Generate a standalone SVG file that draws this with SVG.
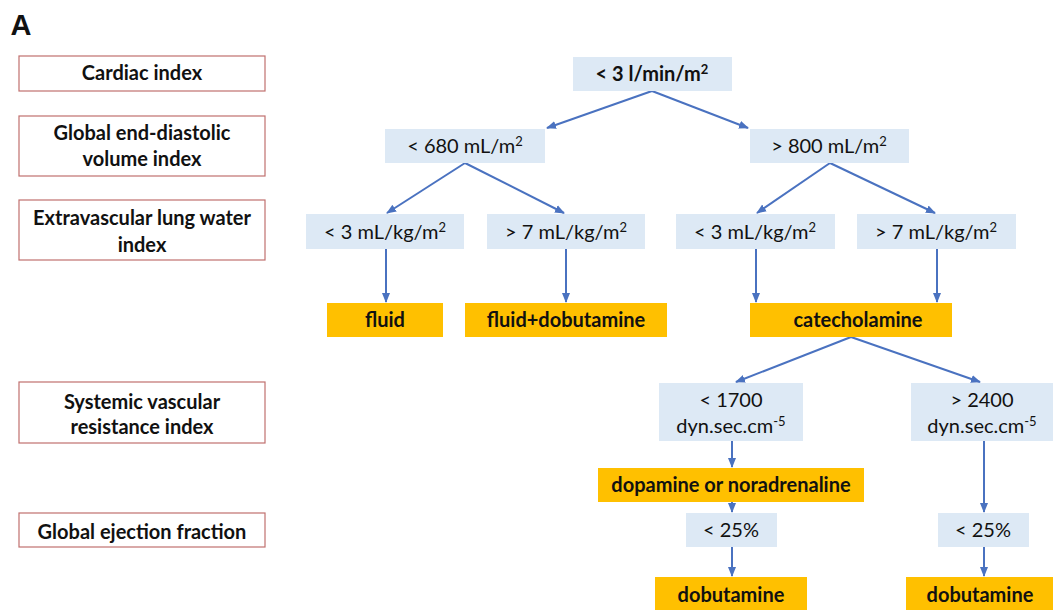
<svg xmlns="http://www.w3.org/2000/svg" width="1053" height="610" viewBox="0 0 1053 610">
<style>
.lbl{fill:#fff;stroke:#c0706e;stroke-width:1.2}
.blue{fill:#dde9f5}
.org{fill:#ffc000}
text{font-family:Lato,"Open Sans","Liberation Sans",sans-serif;font-size:20px;fill:#111;text-anchor:middle}
.b{font-weight:bold}
.sup{font-size:13px}
.conn line{stroke:#4a72c0;stroke-width:2;marker-end:url(#ah)}
</style>
<defs>
<marker id="ah" markerUnits="userSpaceOnUse" markerWidth="10" markerHeight="10" viewBox="0 0 10 10" refX="9" refY="5" orient="auto">
<path d="M0,1 L10,5 L0,9 Z" fill="#4a72c0"/>
</marker>
</defs>
<rect width="1053" height="610" fill="#fff"/>
<text x="21" y="35" class="b" style="font-size:29px;font-family:'Liberation Sans',sans-serif">A</text>

<g id="label-ci"><rect class="lbl" x="19" y="56" width="246" height="35"/><text x="142" y="80" class="b">Cardiac index</text></g>
<g id="label-gedvi"><rect class="lbl" x="19" y="116" width="246" height="60"/><text x="142" y="140" class="b">Global end-diastolic</text><text x="142" y="166" class="b">volume index</text></g>
<g id="label-evlwi"><rect class="lbl" x="19" y="200" width="246" height="60"/><text x="142" y="225" class="b">Extravascular lung water</text><text x="142" y="252" class="b">index</text></g>
<g id="label-svri"><rect class="lbl" x="19" y="382" width="246" height="61"/><text x="142" y="409" class="b">Systemic vascular</text><text x="142" y="434" class="b">resistance index</text></g>
<g id="label-gef"><rect class="lbl" x="19" y="513" width="246" height="34"/><text x="142" y="539" class="b">Global ejection fraction</text></g>

<g class="conn">
<line x1="652" y1="91" x2="547" y2="128"/>
<line x1="652" y1="91" x2="748" y2="128"/>
<line x1="465" y1="163" x2="387" y2="213"/>
<line x1="465" y1="163" x2="564" y2="213"/>
<line x1="830" y1="163" x2="757" y2="213"/>
<line x1="830" y1="163" x2="935" y2="213"/>
<line x1="386" y1="249" x2="386" y2="302"/>
<line x1="566" y1="249" x2="566" y2="302"/>
<line x1="756" y1="249" x2="756" y2="302"/>
<line x1="937" y1="249" x2="937" y2="302"/>
<line x1="851" y1="337" x2="736" y2="382"/>
<line x1="851" y1="337" x2="980" y2="382"/>
<line x1="732" y1="441" x2="732" y2="467"/>
<line x1="732" y1="502" x2="732" y2="512"/>
<line x1="732" y1="547" x2="732" y2="576"/>
<line x1="984" y1="441" x2="984" y2="512"/>
<line x1="984" y1="547" x2="984" y2="576"/>
</g>

<g id="n-ci"><rect class="blue" x="573" y="57" width="159" height="34"/><text x="652" y="81" class="b">&lt; 3 l/min/m<tspan class="sup" dy="-7">2</tspan></text></g>
<g id="n-gedvi-low"><rect class="blue" x="385" y="129" width="160" height="34"/><text x="465" y="153">&lt; 680 mL/m<tspan class="sup" dy="-7">2</tspan></text></g>
<g id="n-gedvi-high"><rect class="blue" x="750" y="129" width="159" height="34"/><text x="829" y="153">&gt; 800 mL/m<tspan class="sup" dy="-7">2</tspan></text></g>
<g id="n-evlw1"><rect class="blue" x="306" y="214" width="158" height="35"/><text x="385" y="239">&lt; 3 mL/kg/m<tspan class="sup" dy="-7">2</tspan></text></g>
<g id="n-evlw2"><rect class="blue" x="487" y="214" width="158" height="35"/><text x="566" y="239">&gt; 7 mL/kg/m<tspan class="sup" dy="-7">2</tspan></text></g>
<g id="n-evlw3"><rect class="blue" x="676" y="214" width="159" height="35"/><text x="755" y="239">&lt; 3 mL/kg/m<tspan class="sup" dy="-7">2</tspan></text></g>
<g id="n-evlw4"><rect class="blue" x="857" y="214" width="159" height="35"/><text x="936" y="239">&gt; 7 mL/kg/m<tspan class="sup" dy="-7">2</tspan></text></g>
<g id="n-fluid"><rect class="org" x="327" y="303" width="116" height="34"/><text x="385" y="327" class="b">fluid</text></g>
<g id="n-fluiddob"><rect class="org" x="465" y="303" width="202" height="34"/><text x="566" y="327" class="b">fluid+dobutamine</text></g>
<g id="n-cat"><rect class="org" x="750" y="303" width="202" height="34"/><text x="858" y="327" class="b">catecholamine</text></g>
<g id="n-svr1"><rect class="blue" x="659" y="383" width="144" height="58"/><text x="731" y="407">&lt; 1700</text><text x="731" y="433">dyn.sec.cm<tspan class="sup" dy="-7">-5</tspan></text></g>
<g id="n-svr2"><rect class="blue" x="911" y="383" width="142" height="58"/><text x="982" y="407">&gt; 2400</text><text x="982" y="433">dyn.sec.cm<tspan class="sup" dy="-7">-5</tspan></text></g>
<g id="n-dopa"><rect class="org" x="598" y="468" width="266" height="34"/><text x="731" y="492" class="b">dopamine or noradrenaline</text></g>
<g id="n-gef1"><rect class="blue" x="686" y="513" width="91" height="34"/><text x="731" y="537">&lt; 25%</text></g>
<g id="n-gef2"><rect class="blue" x="938" y="513" width="91" height="34"/><text x="983" y="537">&lt; 25%</text></g>
<g id="n-dob1"><rect class="org" x="655" y="577" width="152" height="33"/><text x="731" y="602" class="b">dobutamine</text></g>
<g id="n-dob2"><rect class="org" x="906" y="577" width="147" height="33"/><text x="980" y="602" class="b">dobutamine</text></g>
</svg>
